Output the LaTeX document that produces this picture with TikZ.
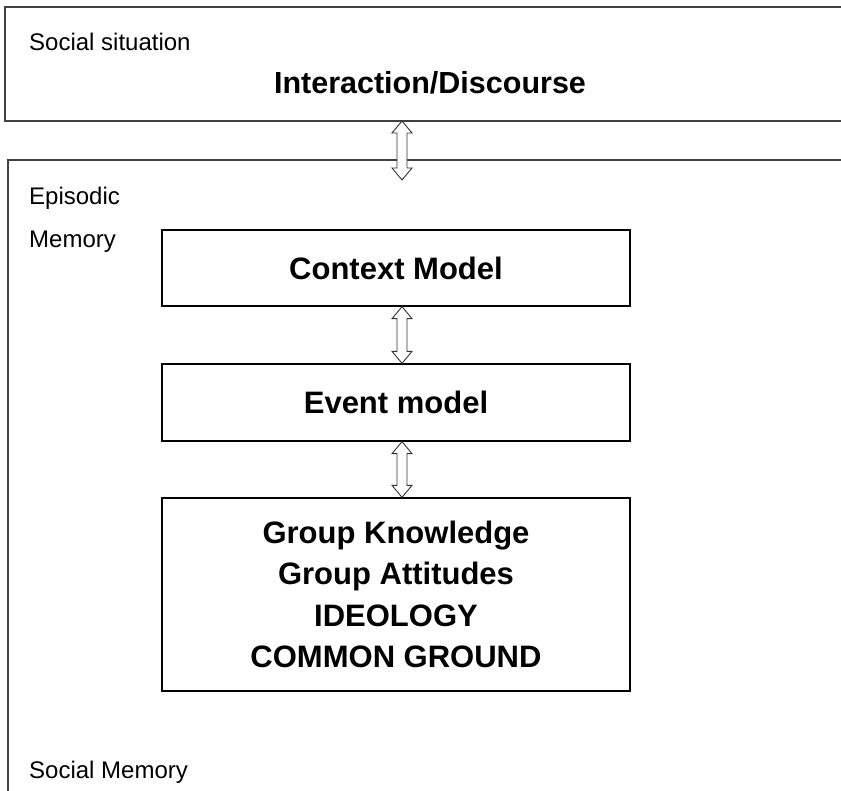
\documentclass[tikz,border=0pt]{standalone}
\usepackage{fontspec}
\setmainfont{Liberation Sans}
\usetikzlibrary{calc}
\tikzset{
  outerline/.style={draw=black!75, line width=1.2pt},
  lab/.style={anchor=west, inner sep=0pt, font=\fontsize{24}{29}\selectfont},
  title/.style={inner sep=0pt, font=\bfseries\fontsize{30.5}{36}\selectfont},
  innerbox/.style={draw=black, line width=1.3pt, minimum width=468pt, inner sep=0pt,
    align=center, font=\bfseries\fontsize{31}{41.3}\selectfont},
  harrow/.style={draw=black!80, fill=white, line width=0.9pt, line join=miter}
}
\newcommand\dblarrow[2]{%
  \draw[harrow] let \p1=(#1), \p2=(#2) in
    (\x1,\y1) -- ({\x1+10pt},{\y1-12pt}) -- ({\x1+5pt},{\y1-12pt}) --
    ({\x1+5pt},{\y2+12pt}) -- ({\x1+10pt},{\y2+12pt}) -- (\x1,\y2) --
    ({\x1-10pt},{\y2+12pt}) -- ({\x1-5pt},{\y2+12pt}) --
    ({\x1-5pt},{\y1-12pt}) -- ({\x1-10pt},{\y1-12pt}) -- cycle;}
\begin{document}
\begin{tikzpicture}[x=1pt,y=-1pt]
\useasboundingbox (0,0) rectangle (841,791);
\clip (0,0) rectangle (841,791);
% outer boxes (cut off at the right and bottom)
\draw[outerline] (870,7) -- (5,7) -- (5,121) -- (870,121);
\draw[outerline] (870,160) -- (8,160) -- (8,800);
% labels
\node[lab] (ss) at (29,42) {Social situation};
\node[title] (id) at (430,83) {Interaction/Discourse};
\node[lab] (ep) at (29,198) {Episodic};
\node[lab] (mem) at (29,242) {Memory};
\node[lab] (sm) at (29,772) {Social Memory};
% inner boxes
\node[innerbox, minimum height=76pt] (ctx) at (396,268) {Context Model};
\node[innerbox, minimum height=77pt] (ev) at (396,402.5) {Event model};
\node[innerbox, minimum height=193pt] (grp) at (396,594.5)
  {Group Knowledge\\Group Attitudes\\IDEOLOGY\\COMMON GROUND};
% arrows
\coordinate (a1t) at (402,121);
\coordinate (a1b) at (402,180);
\dblarrow{a1t}{a1b}
\dblarrow{ctx.south -| a1t}{ev.north -| a1t}
\dblarrow{ev.south -| a1t}{grp.north -| a1t}
\end{tikzpicture}
\end{document}
